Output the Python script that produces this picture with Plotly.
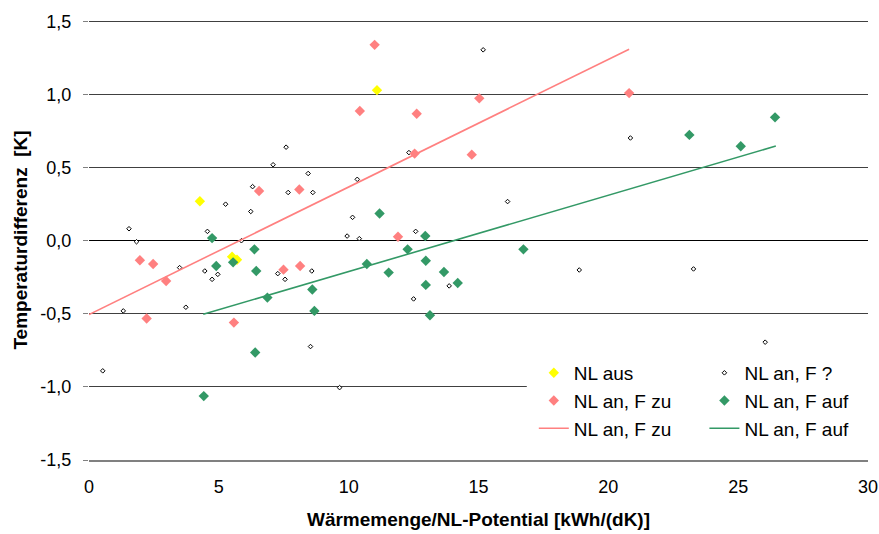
import plotly.graph_objects as go

# NL aus
aus_x = [4.27, 11.09, 5.51, 5.70]
aus_y = [0.27, 1.03, -0.11, -0.13]

# NL an, F ?
unk_x = [15.18, 7.59, 7.09, 8.44, 10.33, 6.30, 7.67, 8.62, 5.26, 6.23, 10.15, 1.54, 4.56,
         9.94, 10.41, 1.83, 5.87, 12.32, 20.85, 16.12, 12.58, 3.49, 4.46, 4.96, 4.74, 7.27,
         8.58, 7.55, 1.32, 3.73, 8.53, 0.53, 9.65, 18.88, 13.87, 12.50, 23.28, 26.04]
unk_y = [1.306, 0.64, 0.52, 0.46, 0.42, 0.37, 0.33, 0.33, 0.25, 0.20, 0.16, 0.082, 0.064,
         0.032, 0.014, -0.007, 0.0, 0.603, 0.703, 0.268, 0.064, -0.184, -0.207, -0.23, -0.264, -0.225,
         -0.207, -0.264, -0.48, -0.455, -0.724, -0.89, -1.005, -0.2, -0.309, -0.398, -0.193, -0.694]

# NL an, F zu
zu_x = [11.0, 10.43, 6.55, 8.10, 20.80, 15.03, 12.62, 12.54, 14.74, 11.90, 1.96, 2.47,
        2.97, 7.49, 8.13, 2.22, 5.58]
zu_y = [1.34, 0.887, 0.34, 0.35, 1.01, 0.974, 0.869, 0.596, 0.589, 0.027, -0.134, -0.159,
        -0.275, -0.198, -0.173, -0.532, -0.56]

# NL an, F auf
auf_x = [11.19, 4.74, 12.95, 23.12, 25.10, 26.42, 6.37, 5.55, 4.90, 6.44, 8.60, 6.87,
         8.68, 10.70, 6.40, 4.42, 12.27, 16.73, 12.97, 11.54, 13.67, 12.97, 14.20, 13.13]
auf_y = [0.186, 0.018, 0.032, 0.724, 0.646, 0.844, -0.059, -0.148, -0.173, -0.207, -0.334, -0.389,
         -0.48, -0.159, -0.765, -1.063, -0.059, -0.059, -0.137, -0.218, -0.214, -0.302, -0.289, -0.51]

# trend lines (end points)
zu_line_x = [0.0, 20.8]
zu_line_y = [-0.505, 1.31]
auf_line_x = [4.4, 26.45]
auf_line_y = [-0.503, 0.648]

y_ticks = [-1.5, -1.0, -0.5, 0.0, 0.5, 1.0, 1.5]
y_labels = ['-1,5', '-1,0', '-0,5', '0,0', '0,5', '1,0', '1,5']

PINK = '#FF8080'
GREEN = '#339966'
FONT = 'Liberation Sans, Arial, sans-serif'

fig = go.Figure()
fig.add_trace(go.Scatter(x=aus_x, y=aus_y, mode='markers', name='NL aus',
                         marker=dict(symbol='diamond', size=8, color='#FFFF00'),
                         legend='legend', legendrank=1))
fig.add_trace(go.Scatter(x=unk_x, y=unk_y, mode='markers', name='NL an, F ?',
                         marker=dict(symbol='diamond', size=3.5, color='white',
                                     line=dict(color='black', width=1)),
                         legend='legend2', legendrank=1))
fig.add_trace(go.Scatter(x=zu_x, y=zu_y, mode='markers', name='NL an, F zu',
                         marker=dict(symbol='diamond', size=8, color=PINK),
                         legend='legend', legendrank=2))
fig.add_trace(go.Scatter(x=auf_x, y=auf_y, mode='markers', name='NL an, F auf',
                         marker=dict(symbol='diamond', size=8, color=GREEN),
                         legend='legend2', legendrank=2))
fig.add_trace(go.Scatter(x=zu_line_x, y=zu_line_y, mode='lines', name='NL an, F zu',
                         line=dict(color=PINK, width=1.6),
                         legend='legend', legendrank=3))
fig.add_trace(go.Scatter(x=auf_line_x, y=auf_line_y, mode='lines', name='NL an, F auf',
                         line=dict(color=GREEN, width=1.6),
                         legend='legend2', legendrank=3))

# white box behind the legend, hiding the grid line there
fig.add_shape(type='rect', xref='paper', yref='paper', x0=0.562, x1=1.0, y0=0.012, y1=0.25,
              fillcolor='white', line=dict(width=0), layer='above')

legend_style = dict(font=dict(family=FONT, size=19, color='black'), bgcolor='rgba(0,0,0,0)',
                    yanchor='top', xanchor='left', tracegroupgap=0, itemwidth=30)

fig.update_layout(
    width=879, height=534,
    margin=dict(l=89, r=11, t=20, b=74),
    plot_bgcolor='white', paper_bgcolor='white',
    font=dict(family=FONT, size=18, color='black'),
    legend=dict(x=0.571, y=0.241, **legend_style),
    legend2=dict(x=0.790, y=0.241, **legend_style),
)
fig.update_xaxes(range=[0, 30], dtick=5, tick0=0, showgrid=False, zeroline=False,
                 showline=True, linecolor='#808080', linewidth=1.5,
                 ticks='', tickfont=dict(size=18), ticklabelstandoff=10, automargin=False,
                 title=dict(text='<b>Wärmemenge/NL-Potential [kWh/(dK)]</b>', font=dict(size=19), standoff=16))
fig.update_yaxes(range=[-1.5, 1.51], tickvals=y_ticks, ticktext=y_labels,
                 showgrid=True, gridcolor='#404040', gridwidth=1,
                 zeroline=True, zerolinecolor='black', zerolinewidth=1.2,
                 ticks='outside', ticklen=5, tickcolor='#808080',
                 tickfont=dict(size=18), ticklabelstandoff=8, automargin=False,
                 title=dict(text='<b>Temperaturdifferenz  [K]</b>', font=dict(size=19), standoff=7))

fig.write_html('out.html', config={'displayModeBar': False},
               post_script="document.body.style.margin='0';document.body.style.overflow='hidden';")
